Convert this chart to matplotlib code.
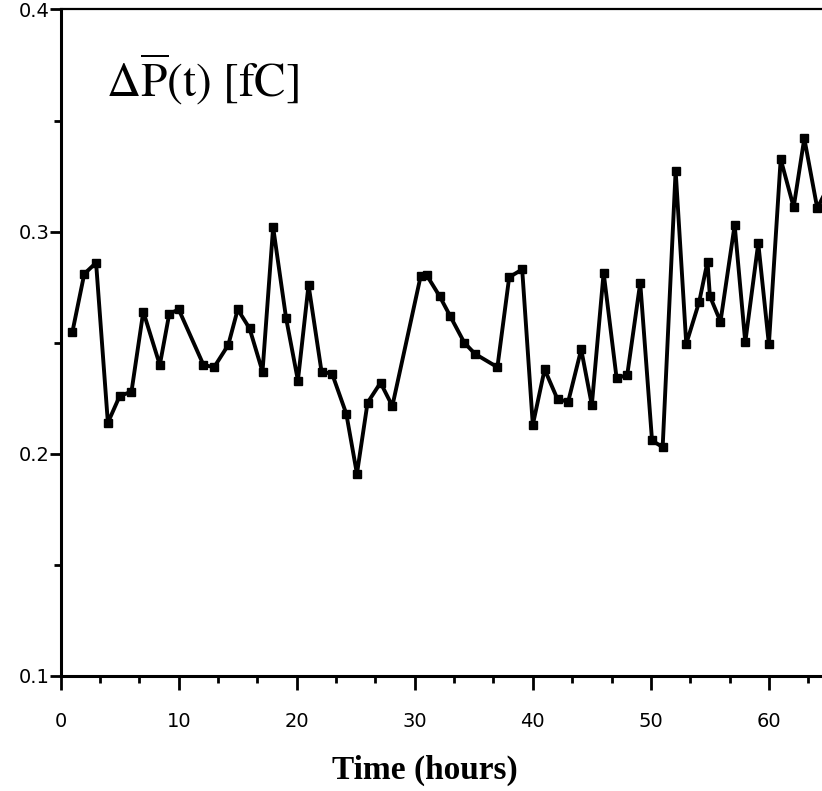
#%%
import matplotlib.pyplot as plt
from matplotlib.ticker import MultipleLocator
import numpy as np

plt.rcParams['mathtext.fontset'] = 'stix'

# values
hours = [1, 2, 3, 4, 5, 6, 7, 8.4, 9.2, 10, 12.1, 13, 14.2, 15, 16, 17.1, 18, 19.1, 20.1, 21,
         22.1, 23, 24.2, 25.1, 26, 27.1, 28.1, 30.5, 31, 32.1, 33, 34.2, 35.1, 37, 38, 39.1,
         40, 41, 42.1, 43, 44.1, 45, 46, 47.1, 48, 49.1, 50.1, 51, 52.1, 53, 54.1, 54.8, 55,
         55.9, 57.1, 58, 59.1, 60, 61, 62.1, 63, 64.1, 65]
delta_p = [0.255, 0.281, 0.286, 0.214, 0.226, 0.228, 0.264, 0.240, 0.263, 0.265, 0.240, 0.239,
           0.249, 0.265, 0.2565, 0.237, 0.302, 0.261, 0.233, 0.276, 0.237, 0.236, 0.218, 0.191,
           0.223, 0.232, 0.2215, 0.280, 0.2805, 0.271, 0.262, 0.250, 0.245, 0.239, 0.2795, 0.283,
           0.213, 0.238, 0.2245, 0.2235, 0.247, 0.222, 0.2815, 0.234, 0.2355, 0.277, 0.206, 0.203,
           0.3275, 0.2495, 0.2685, 0.2865, 0.271, 0.2595, 0.303, 0.2502, 0.2948, 0.2493, 0.3327,
           0.311, 0.342, 0.3105, 0.320]

x_ticks = [0, 10, 20, 30, 40, 50, 60]
y_ticks = [0.1, 0.2, 0.3, 0.4]
y_labels = ['0.1', '0.2', '0.3', '0.4']

fig = plt.figure(figsize=(8.22, 7.91), dpi=100)
ax = fig.add_axes([0.0738, 0.1454, 0.9262, 0.8426])

ax.plot(hours, delta_p, color='black', lw=2.8, marker='s', markersize=6, clip_on=True)

ax.set_xlim(0, 64.5)
ax.set_ylim(0.1, 0.4)

ax.spines['right'].set_visible(False)
ax.spines['left'].set_linewidth(2.2)
ax.spines['bottom'].set_linewidth(2.2)
ax.spines['top'].set_linewidth(1.6)

ax.set_xticks(x_ticks)
ax.xaxis.set_minor_locator(MultipleLocator(10 / 3))
ax.set_yticks(y_ticks)
ax.set_yticklabels(y_labels)
ax.yaxis.set_minor_locator(MultipleLocator(0.05))

ax.tick_params(axis='x', which='major', direction='out', length=10, width=2, pad=16,
               labelsize=14)
ax.tick_params(axis='x', which='minor', direction='out', length=5, width=2)
ax.tick_params(axis='y', which='major', direction='out', length=8, width=2, pad=0,
               labelsize=14)
ax.tick_params(axis='y', which='minor', direction='out', length=5, width=2)

ax.set_xlabel('Time (hours)', family='Liberation Serif', fontweight='bold', fontsize=24)
ax.xaxis.set_label_coords(0.478, -0.141)
ax.xaxis.label.set_va('center')

ax.text(0.0595, 0.869, r'$\Delta\overline{\mathrm{P}}\mathrm{(t)\ [fC]}$', transform=ax.transAxes,
        fontsize=34, ha='left', va='baseline')

fig.savefig('out.png', dpi=100)
